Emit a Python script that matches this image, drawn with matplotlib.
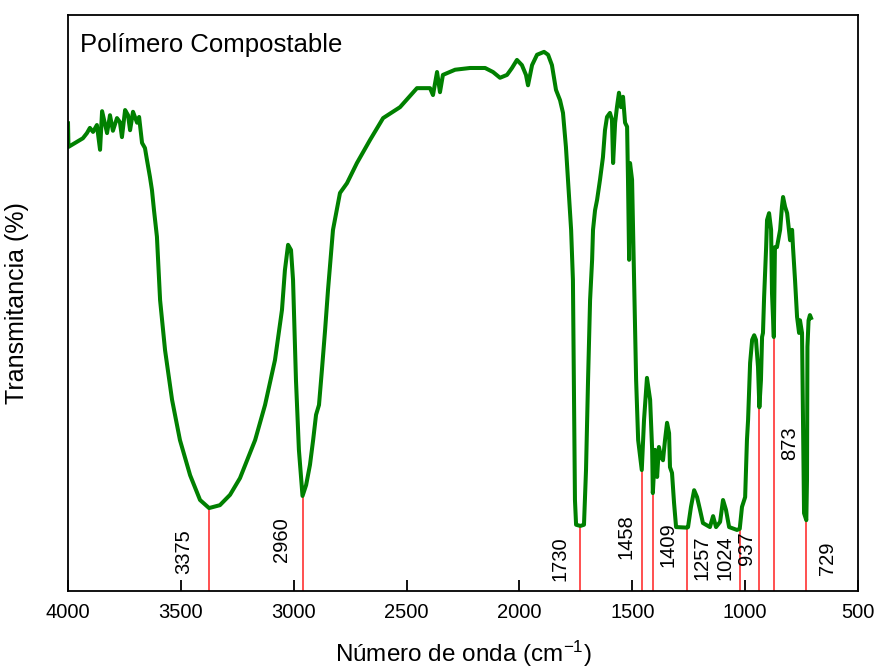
import numpy as np
import matplotlib
matplotlib.use("Agg")
import matplotlib.pyplot as plt

plt.rcParams["font.family"] = ["Liberation Sans", "DejaVu Sans"]
plt.rcParams["mathtext.fontset"] = "custom"
plt.rcParams["mathtext.rm"] = "Liberation Sans"
plt.rcParams["mathtext.it"] = "Liberation Sans:italic"

# spectrum (wavenumber cm-1, transmittance, arbitrary %)
WAVENUMBER = [4000, 3998, 3960, 3934, 3916, 3903, 3889, 3872, 3858, 3849, 3827, 3814, 3801,
              3783, 3770, 3761, 3747, 3734, 3725, 3712, 3694, 3685, 3672, 3659, 3650, 3637,
              3628, 3619, 3606, 3592, 3570, 3539, 3504, 3459, 3415, 3375, 3327, 3282, 3238,
              3171, 3127, 3083, 3052, 3039, 3025, 3012, 3003, 2990, 2977, 2961, 2945, 2928,
              2914, 2901, 2888, 2875, 2861, 2848, 2826, 2795, 2764, 2720, 2662, 2604, 2529,
              2454, 2396, 2383, 2365, 2352, 2339, 2285, 2219, 2152, 2117, 2086, 2055, 2033,
              2011, 1989, 1971, 1962, 1944, 1922, 1891, 1873, 1856, 1838, 1820, 1807, 1794,
              1780, 1771, 1763, 1758, 1754, 1749, 1730, 1714, 1705, 1696, 1687, 1678, 1674,
              1665, 1656, 1643, 1630, 1621, 1612, 1599, 1590, 1585, 1576, 1568, 1559, 1550,
              1541, 1532, 1523, 1519, 1514, 1510, 1501, 1492, 1483, 1474, 1458, 1448, 1435,
              1421, 1412, 1409, 1399, 1390, 1382, 1373, 1364, 1355, 1346, 1337, 1333, 1324,
              1315, 1306, 1257, 1253, 1240, 1226, 1213, 1200, 1187, 1156, 1142, 1129, 1111,
              1098, 1085, 1071, 1036, 1024, 1014, 1000, 992, 987, 978, 969, 960, 952, 943,
              937, 930, 925, 921, 916, 907, 903, 894, 885, 881, 873, 870, 868, 859, 845,
              837, 832, 823, 814, 806, 801, 792, 788, 779, 770, 761, 757, 748, 744, 739,
              729, 726, 724, 719, 713, 708]
TRANSMITTANCE = [81.2, 77.1, 78.0, 78.6, 79.5, 80.4, 79.7, 80.9, 76.6, 83.3, 79.5, 82.6, 79.9,
                 82.1, 81.4, 78.8, 83.5, 82.6, 80.0, 83.2, 81.3, 82.3, 77.8, 76.9, 74.8, 71.9,
                 69.6, 66.1, 61.5, 50.5, 41.8, 33.2, 26.2, 20.1, 15.8, 14.4, 14.9, 16.7, 19.6,
                 26.2, 32.3, 40.1, 48.8, 55.7, 60.1, 59.2, 54.0, 36.6, 24.5, 16.5, 18.4, 21.9,
                 26.2, 30.6, 32.3, 38.4, 45.3, 52.3, 62.7, 69.1, 70.8, 74.3, 78.3, 82.1, 84.0,
                 87.3, 87.3, 86.1, 90.1, 86.6, 89.6, 90.5, 90.8, 90.8, 90.1, 89.1, 89.6, 90.8,
                 92.2, 91.3, 89.6, 87.8, 91.3, 93.1, 93.6, 93.1, 91.3, 87.0, 85.2, 83.0, 77.1,
                 68.4, 62.7, 54.0, 33.2, 15.8, 11.5, 11.3, 11.5, 21.0, 36.6, 50.5, 57.5, 62.7,
                 66.1, 67.9, 71.4, 75.3, 80.0, 82.3, 83.0, 81.8, 74.3, 81.3, 84.0, 86.5, 84.0,
                 85.8, 81.3, 80.6, 71.4, 57.5, 74.3, 71.4, 54.0, 36.6, 26.2, 21.0, 29.7, 37.0,
                 33.2, 24.5, 17.0, 24.5, 19.8, 25.0, 23.3, 22.7, 26.2, 29.2, 27.4, 21.5, 20.5,
                 15.3, 11.1, 11.0, 11.1, 14.6, 17.5, 16.3, 14.1, 11.8, 11.1, 13.0, 11.1, 12.0,
                 15.8, 14.1, 11.1, 10.6, 10.8, 14.6, 16.3, 26.2, 29.7, 39.6, 43.6, 44.4, 43.6,
                 38.9, 31.9, 36.6, 44.1, 44.8, 51.0, 59.7, 64.4, 65.6, 62.7, 51.7, 44.1, 54.0,
                 59.7, 59.7, 62.7, 66.7, 68.4, 66.7, 65.6, 62.7, 60.9, 62.7, 59.7, 54.0, 47.6,
                 44.8, 47.0, 44.8, 30.9, 13.5, 12.3, 19.3, 42.4, 47.0, 47.9, 47.4]

PEAKS = [3375, 2960, 1730, 1458, 1409, 1257, 1024, 937, 873, 729]
# where each peak label sits (wavenumber, transmittance)
LABEL_X = [3486, 3056, 1820, 1528, 1342, 1191, 1089, 992, 801, 637]
LABEL_Y = [6.8, 8.9, 5.6, 9.5, 8.0, 5.7, 5.7, 7.5, 25.7, 5.7]

fig = plt.figure(figsize=(8.77, 6.70), dpi=100)
ax = fig.add_axes([68 / 877, 79 / 670, 790 / 877, 576 / 670])

w = np.array(WAVENUMBER, dtype=float)
t = np.array(TRANSMITTANCE, dtype=float)
peak_t = np.interp(PEAKS, w[::-1], t[::-1])
ax.vlines(PEAKS, 0, peak_t, color="#ff2020", lw=1.1, zorder=1)
ax.plot(w, t, color="#008000", lw=2.9, zorder=2, solid_joinstyle="round")

for p, lx, ly in zip(PEAKS, LABEL_X, LABEL_Y):
    ax.text(lx, ly, str(p), rotation=90, ha="center", va="center", fontsize=14.5)

ax.text(0.015, 0.968, "Polímero Compostable", transform=ax.transAxes,
        ha="left", va="top", fontsize=18.5)

ax.set_xlim(4000, 500)
ax.set_ylim(0, 100)
ax.set_xticks(np.arange(4000, 499, -500))
ax.set_yticks([])
ax.tick_params(axis="x", direction="in", length=8, width=1.3, labelsize=14.5, pad=9)
for s in ax.spines.values():
    s.set_linewidth(1.3)
ax.set_xlabel("Número de onda (cm$^{-1}$)", fontsize=17.5, labelpad=12)
ax.set_ylabel("Transmitancia (%)", fontsize=18, labelpad=28)

fig.savefig("out.png", dpi=100)
